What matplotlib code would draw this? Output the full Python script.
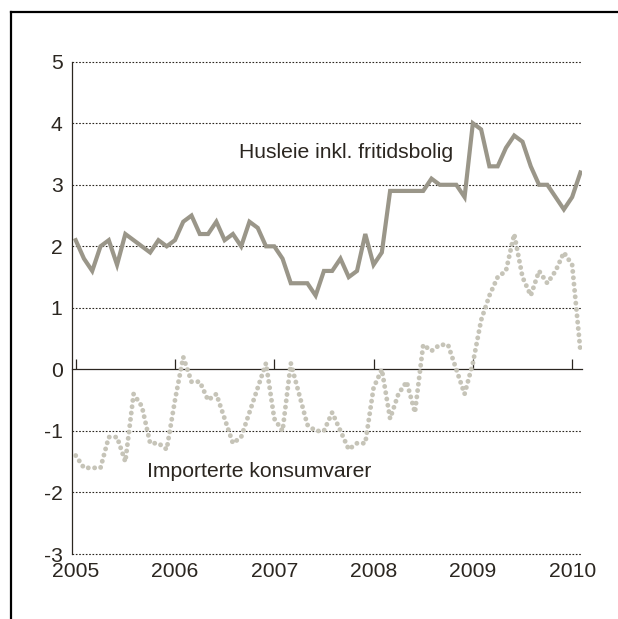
"""Monthly price growth: rent vs. imported consumer goods, 2005-2010."""

import matplotlib

matplotlib.use("Agg")

import matplotlib.pyplot as plt
import numpy as np
from matplotlib.lines import Line2D


plt.rcParams["font.family"] = ["Liberation Sans", "DejaVu Sans"]
plt.rcParams["axes.unicode_minus"] = False

YEARS = [2005, 2006, 2007, 2008, 2009, 2010]
Y_TICKS = [-3, -2, -1, 0, 1, 2, 3, 4, 5]

# Jan 2005 .. Feb 2010, one value per month
HUSLEIE = [
    2.1, 1.8, 1.6, 2.0, 2.1, 1.7, 2.2, 2.1, 2.0, 1.9, 2.1, 2.0,
    2.1, 2.4, 2.5, 2.2, 2.2, 2.4, 2.1, 2.2, 2.0, 2.4, 2.3, 2.0,
    2.0, 1.8, 1.4, 1.4, 1.4, 1.2, 1.6, 1.6, 1.8, 1.5, 1.6, 2.2,
    1.7, 1.9, 2.9, 2.9, 2.9, 2.9, 2.9, 3.1, 3.0, 3.0, 3.0, 2.8,
    4.0, 3.9, 3.3, 3.3, 3.6, 3.8, 3.7, 3.3, 3.0, 3.0, 2.8, 2.6,
    2.8, 3.2,
]
IMPORTERTE = [
    -1.4, -1.6, -1.6, -1.6, -1.1, -1.1, -1.5, -0.4, -0.6, -1.2, -1.2, -1.3,
    -0.5, 0.2, -0.2, -0.2, -0.5, -0.4, -0.8, -1.2, -1.1, -0.7, -0.3, 0.1,
    -0.8, -1.0, 0.1, -0.4, -0.9, -1.0, -1.0, -0.7, -1.0, -1.3, -1.2, -1.2,
    -0.3, 0.0, -0.8, -0.4, -0.2, -0.7, 0.4, 0.3, 0.4, 0.4, 0.0, -0.4,
    0.1, 0.8, 1.2, 1.5, 1.6, 2.2, 1.5, 1.2, 1.6, 1.4, 1.6, 1.9,
    1.7, 0.3,
]
LABEL_HUSLEIE = "Husleie inkl. fritidsbolig"
LABEL_IMPORTERTE = "Importerte konsumvarer"

SOLID_COLOR = "#9a9689"
DOTTED_COLOR = "#c6c4b8"
INK = "#2b2620"
FONT_SIZE = 15.2


def main() -> None:
    months = YEARS[0] + np.arange(len(HUSLEIE)) / 12

    fig = plt.figure(figsize=(6.18, 6.19), dpi=100)
    ax = fig.add_axes([0.117, 0.105, 0.8247, 0.7953])

    for y in Y_TICKS:
        if y == 0:
            continue
        ax.axhline(y, color=INK, linewidth=0.8, linestyle=(0, (1.5, 1.5)),
                   zorder=1, clip_on=False)

    ax.plot(months, IMPORTERTE, color=DOTTED_COLOR, linewidth=3.5,
            linestyle=(0, (0.01, 1.3)), dash_capstyle="round", zorder=3)
    ax.plot(months, HUSLEIE, color=SOLID_COLOR, linewidth=3.0,
            solid_joinstyle="miter", zorder=4)

    ax.set_xlim(2004.966, 2010.099)
    ax.set_ylim(-3, 5)

    for side in ("top", "right"):
        ax.spines[side].set_visible(False)
    ax.spines["bottom"].set_position(("data", 0))
    for side in ("left", "bottom"):
        ax.spines[side].set_color(INK)
        ax.spines[side].set_linewidth(0.9)

    ax.set_xticks(YEARS)
    ax.tick_params(axis="x", direction="in", length=7, width=0.9, color=INK,
                   labelbottom=False)
    ax.set_yticks(Y_TICKS)
    ax.tick_params(axis="y", length=0, pad=7, labelsize=FONT_SIZE, labelcolor=INK)

    for year in YEARS:
        ax.annotate(str(year), xy=(year, -3), xytext=(0, -6),
                    textcoords="offset points", ha="center", va="top",
                    fontsize=FONT_SIZE, color=INK)

    ax.text(2006.645, 3.44, LABEL_HUSLEIE, fontsize=FONT_SIZE, color=INK,
            va="baseline")
    ax.text(2005.72, -1.75, LABEL_IMPORTERTE, fontsize=FONT_SIZE, color=INK,
            va="baseline")

    # frame around the figure: top and left edges only
    fig.add_artist(Line2D([11 / 618, 11 / 618], [0, 1 - 12 / 619],
                          transform=fig.transFigure, color="black", linewidth=1.6))
    fig.add_artist(Line2D([11 / 618, 1], [1 - 12 / 619, 1 - 12 / 619],
                          transform=fig.transFigure, color="black", linewidth=1.6))

    fig.savefig("out.png", dpi=100)
    plt.close(fig)


if __name__ == "__main__":
    main()
